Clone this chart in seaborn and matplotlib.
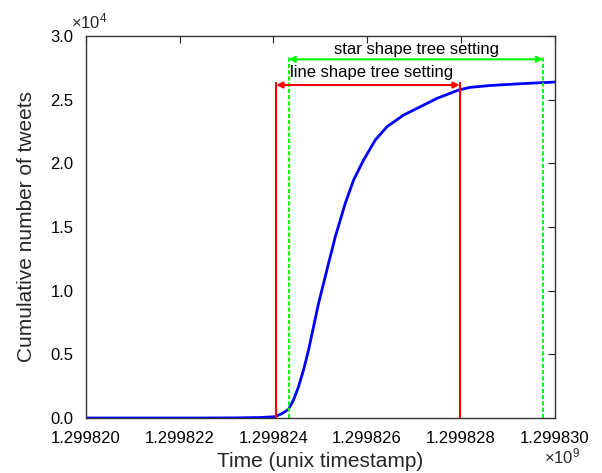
import numpy as np
import pandas as pd
import matplotlib
matplotlib.use("Agg")
import matplotlib.pyplot as plt
import seaborn as sns
from matplotlib.ticker import FuncFormatter

# ---- data ----
t0 = 1299820000
time_offset = [0, 1000, 2436, 3200, 3718, 4038, 4200, 4323, 4429, 4536, 4643, 4750, 4857,
               4964, 5071, 5177, 5250, 5321, 5534, 5712, 5925, 6175, 6425, 6780, 7137,
               7494, 7955, 8205, 8632, 9167, 9701, 10100]
cumulative = [0, 0, 0, 10, 40, 102, 380, 683, 1414, 2458, 3770, 5340, 7170,
              9008, 10578, 12149, 13194, 14238, 16861, 18691, 20262, 21832, 22877, 23795, 24447,
              25107, 25759, 25971, 26112, 26230, 26332, 26395]
time = [t0 + v for v in time_offset]

line_setting = [t0 + 4060, t0 + 7977]
line_height = 26350
line_arrow_y = 26150
star_setting = [t0 + 4323, t0 + 9758]
star_height = 28380
star_arrow_y = 28170

xticks = [t0 + v for v in [0, 2000, 4000, 6000, 8000, 10000]]
yticks = [0, 5000, 10000, 15000, 20000, 25000, 30000]

df = pd.DataFrame({"time": time, "count": cumulative})

# ---- style ----
sns.set_theme(style="white")
plt.rcParams["font.family"] = ["Liberation Sans", "DejaVu Sans"]
plt.rcParams["mathtext.fontset"] = "custom"
plt.rcParams["mathtext.rm"] = "Liberation Sans"
plt.rcParams["mathtext.it"] = "Liberation Sans"

fig = plt.figure(figsize=(6.02, 4.73), dpi=100)
ax = fig.add_axes([86 / 602, 1 - 418 / 473, 468.5 / 602, 382 / 473])

sns.lineplot(data=df, x="time", y="count", ax=ax, color=(0, 0, 1), lw=2,
             estimator=None, sort=False)

# line shape setting (red)
ax.vlines(line_setting, 0, line_height, colors=(1, 0, 0), lw=1.5)
ax.annotate("", xy=(line_setting[0], line_arrow_y), xytext=(line_setting[1], line_arrow_y),
            arrowprops=dict(arrowstyle="<|-|>", color=(1, 0, 0), lw=1.5,
                            mutation_scale=9, shrinkA=0, shrinkB=0))
ax.text(star_setting[0] + 40, 26780, "line shape tree setting",
        fontsize=12, ha="left", va="baseline", color="black")

# star shape setting (green)
ax.vlines(star_setting, 0, star_height, colors=(0, 1, 0), lw=1.5, linestyles=(0, (2, 1)))
ax.annotate("", xy=(star_setting[0], star_arrow_y), xytext=(star_setting[1], star_arrow_y),
            arrowprops=dict(arrowstyle="<|-|>", color=(0, 1, 0), lw=1.5,
                            mutation_scale=9, shrinkA=0, shrinkB=0))
ax.text(t0 + 7051, 28590, "star shape tree setting",
        fontsize=12, ha="center", va="baseline", color="black")

ax.set_xlim(t0, t0 + 10000)
ax.set_ylim(0, 30000)
ax.set_xticks(xticks)
ax.set_yticks(yticks)
ax.xaxis.set_major_formatter(FuncFormatter(lambda v, p: f"{v / 1e9:.6f}"))
ax.yaxis.set_major_formatter(FuncFormatter(lambda v, p: f"{v / 1e4:.1f}"))
ax.tick_params(direction="in", length=5, width=0.8, top=True, right=True,
               labelsize=12, colors="#222222", labelcolor="black")
ax.tick_params(axis="x", pad=9)
ax.tick_params(axis="y", pad=9)
for s in ax.spines.values():
    s.set_visible(True)
    s.set_color("#333333")
    s.set_linewidth(1.0)

ax.set_xlabel("Time (unix timestamp)", fontsize=15, labelpad=5)
ax.set_ylabel("Cumulative number of tweets", fontsize=15, labelpad=10)

fig.text(71 / 602, 1 - 28 / 473, r"$\times10^{4}$", fontsize=12, ha="left", va="baseline")
fig.text(544 / 602, 1 - 463 / 473, r"$\times10^{9}$", fontsize=12, ha="left", va="baseline")

fig.savefig("out.png", dpi=100, facecolor="white")
